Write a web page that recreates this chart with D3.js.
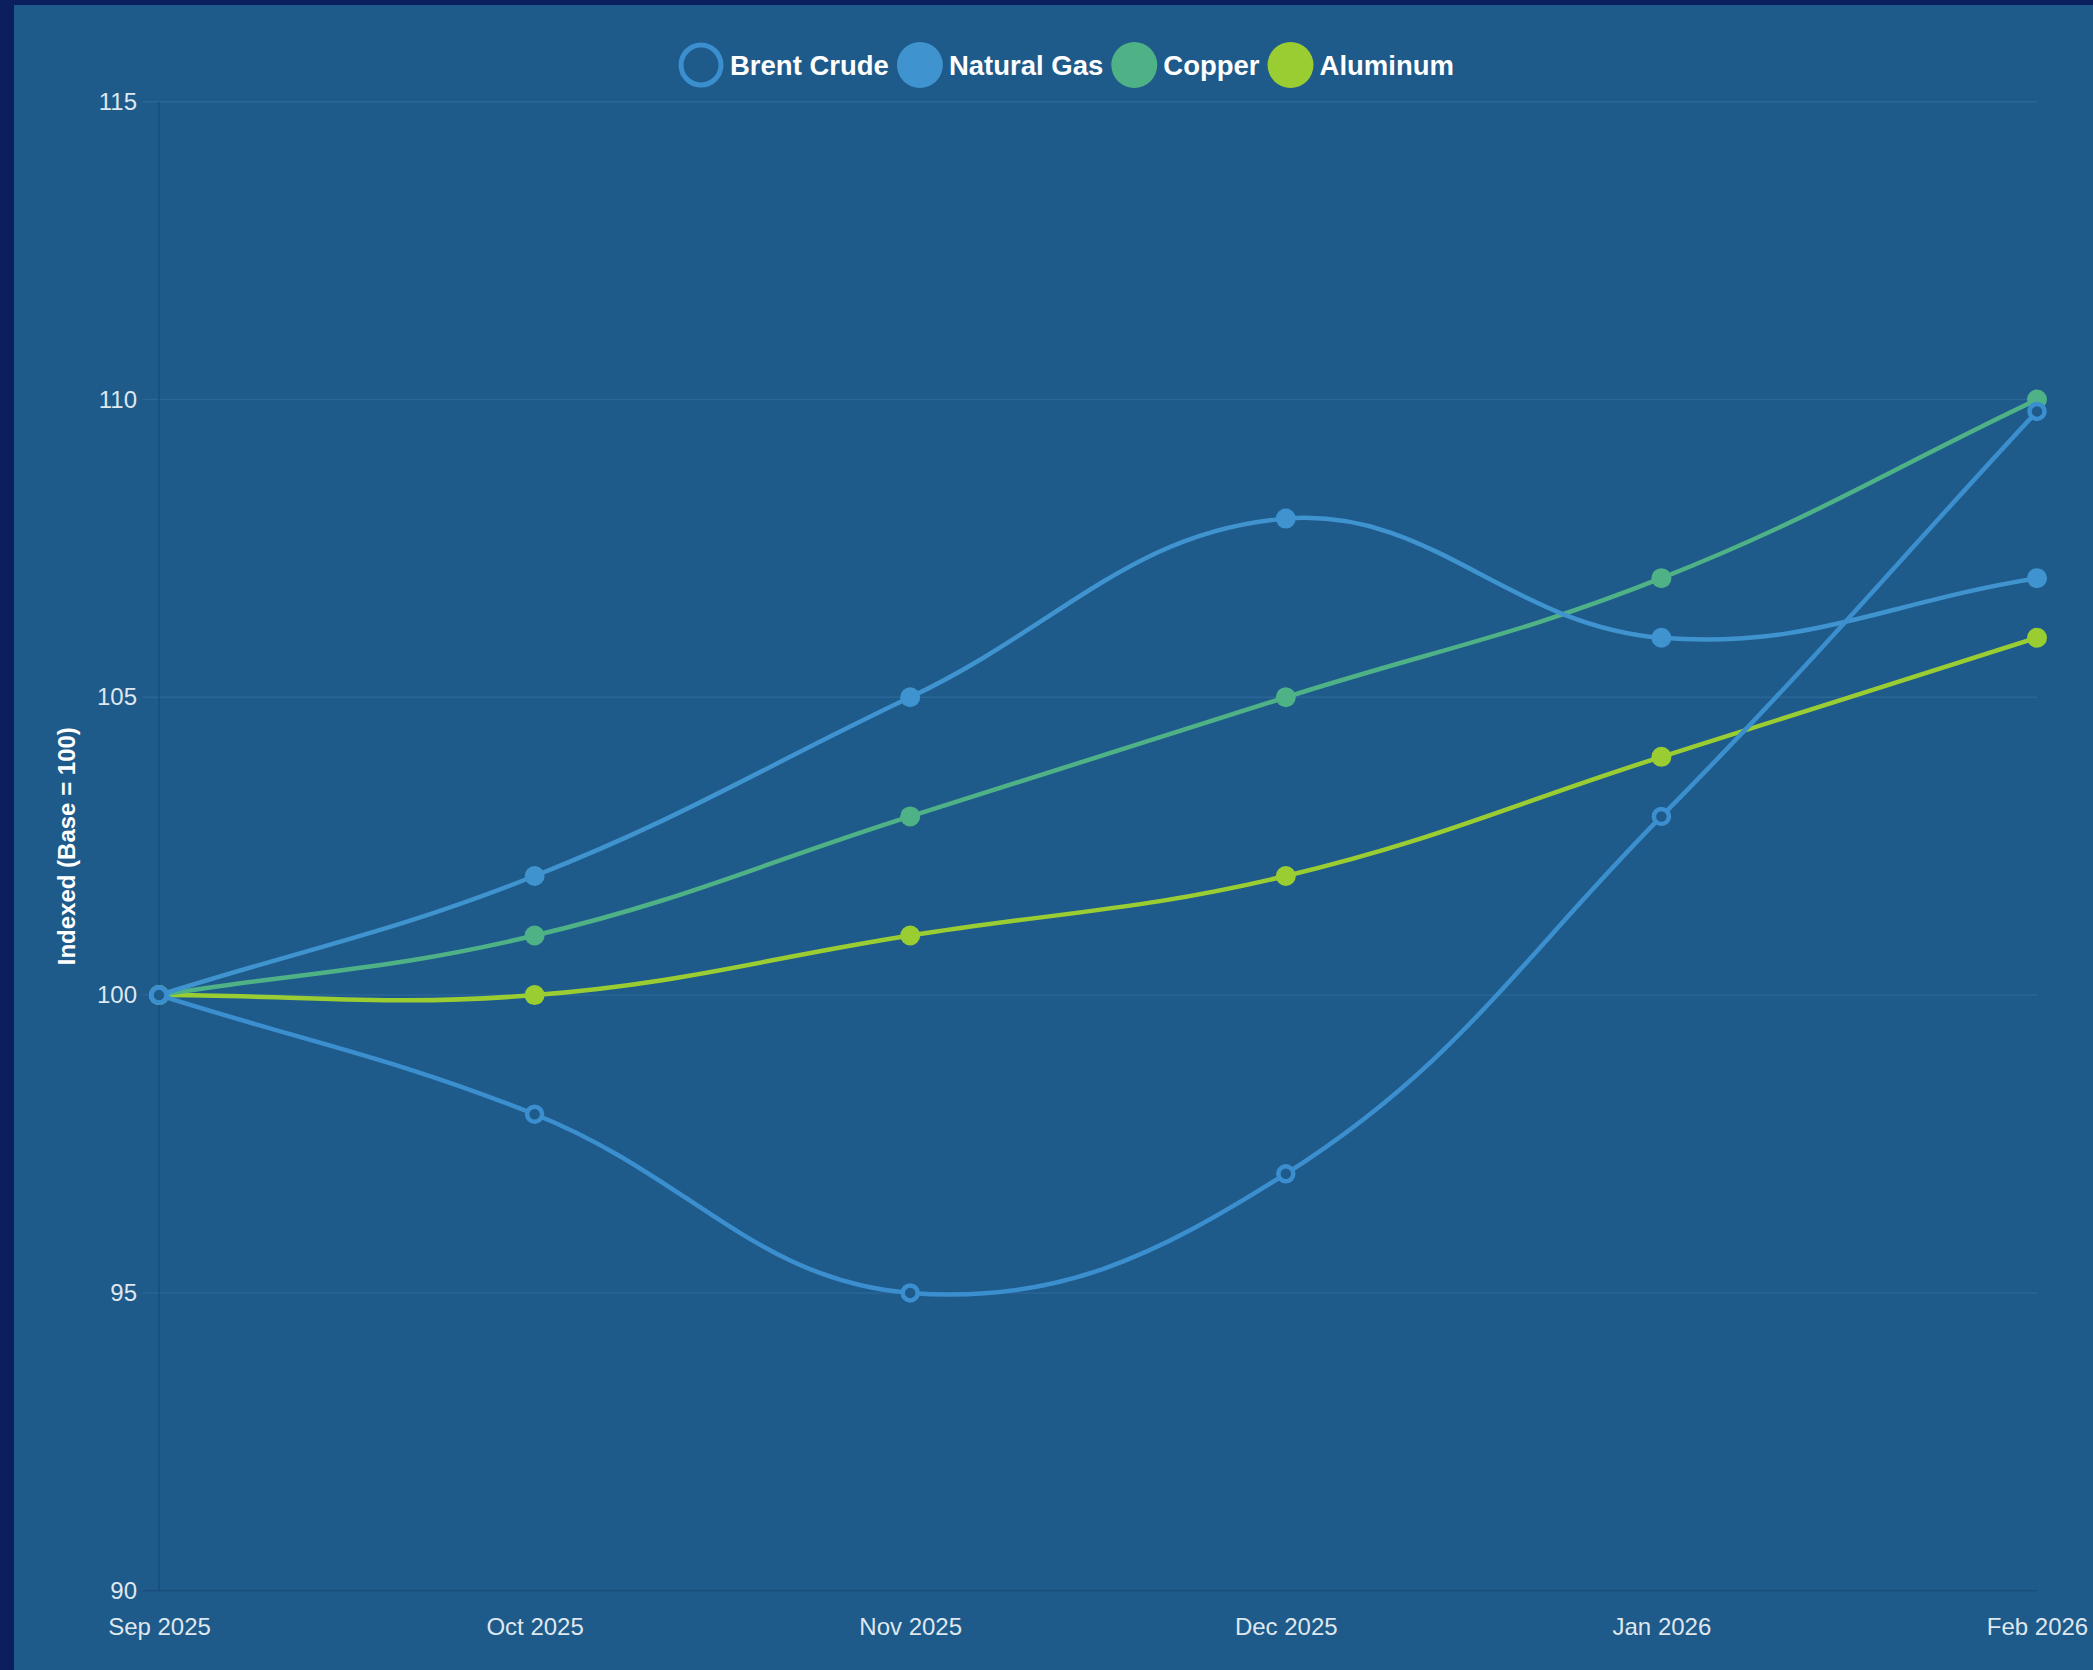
<!DOCTYPE html>
<html>
<head>
<meta charset="utf-8">
<script src="https://cdn.jsdelivr.net/npm/d3@7"></script>
<style>
  html, body { margin: 0; padding: 0; background: #0b1f5e; overflow: hidden; }
  svg { position: absolute; left: 14px; top: 5px; display: block; }
  text { font-family: "Liberation Sans", Arial, Helvetica, sans-serif; }
</style>
</head>
<body>
<svg id="chart"></svg>
<script>
const months = ["Sep 2025", "Oct 2025", "Nov 2025", "Dec 2025", "Jan 2026", "Feb 2026"];
const seriesNames = ["Brent Crude", "Natural Gas", "Copper", "Aluminum"];
const brentCrude = [100, 98, 95, 97, 103, 109.8];
const naturalGas = [100, 102, 105, 108, 106, 107];
const copper = [100, 101, 103, 105, 107, 110];
const aluminum = [100, 100, 101, 102, 104, 106];
const yTicks = [90, 95, 100, 105, 110, 115];
const yTitle = "Indexed (Base = 100)";

const colors = ["#3c8fcf", "#3f93cf", "#4fb286", "#9acd32"];
const hollow = [true, false, false, false];
const seriesValues = [brentCrude, naturalGas, copper, aluminum];

(function () {
const W = 2079, H = 1665, OX = 14, OY = 5;
const bg = "#1e5a8a";
const svg = d3.select("#chart").attr("width", W).attr("height", H);
svg.append("rect").attr("width", W).attr("height", H).attr("fill", bg);

const pL = 159 - OX, pR = 2037 - OX, pT = 101.7 - OY, pB = 1590.7 - OY;

const x = d3.scalePoint().domain(months).range([pL, pR]);
const y = d3.scaleLinear().domain([90, 115]).range([pB, pT]);

const g = svg.append("g");
g.selectAll("line.grid").data(yTicks).join("line")
  .attr("x1", pL - 16).attr("x2", pR)
  .attr("y1", d => y(d)).attr("y2", d => y(d))
  .attr("stroke", d => d === 90 ? "#1a4f7c" : "#2a6797").attr("stroke-width", 1.5);
g.append("line").attr("x1", pL).attr("x2", pL).attr("y1", pT).attr("y2", pB)
  .attr("stroke", "#1a4e7a").attr("stroke-width", 1.5);

const yAxis = d3.axisLeft(y).tickValues(yTicks).tickSize(0).tickPadding(22);
const ya = svg.append("g").attr("transform", `translate(${pL},0)`).call(yAxis);
ya.select(".domain").remove();
ya.selectAll("text").attr("fill", "#dfe7ef").attr("font-size", 24)
  .attr("font-family", "Liberation Sans, Arial, sans-serif");

const xAxis = d3.axisBottom(x).tickSize(0).tickPadding(0);
const xa = svg.append("g").attr("transform", `translate(0,${pB})`).call(xAxis);
xa.select(".domain").remove();
xa.selectAll("text").attr("fill", "#dfe7ef").attr("font-size", 24)
  .attr("font-family", "Liberation Sans, Arial, sans-serif")
  .attr("dy", null).attr("y", 1635 - 1590.7);

svg.append("text")
  .attr("transform", `translate(${67 - OX + 8},${(pT + pB) / 2}) rotate(-90)`)
  .attr("text-anchor", "middle").attr("fill", "#ffffff")
  .attr("font-size", 24).attr("font-weight", "bold").text(yTitle);

function splinePath(pts, t) {
  const cps = pts.map((p, i) => {
    const prev = pts[i - 1] || p, next = pts[i + 1] || p;
    const d01 = Math.hypot(p[0] - prev[0], p[1] - prev[1]);
    const d12 = Math.hypot(next[0] - p[0], next[1] - p[1]);
    let s01 = d01 / (d01 + d12), s12 = d12 / (d01 + d12);
    if (isNaN(s01)) s01 = 0; if (isNaN(s12)) s12 = 0;
    const fa = t * s01, fb = t * s12;
    const c1 = [p[0] - fa * (next[0] - prev[0]), p[1] - fa * (next[1] - prev[1])];
    const c2 = [p[0] + fb * (next[0] - prev[0]), p[1] + fb * (next[1] - prev[1])];
    const cap = c => [Math.max(pL, Math.min(pR, c[0])), Math.max(pT, Math.min(pB, c[1]))];
    return { prev: cap(c1), next: cap(c2) };
  });
  const path = d3.path();
  path.moveTo(pts[0][0], pts[0][1]);
  for (let i = 1; i < pts.length; i++) {
    path.bezierCurveTo(cps[i - 1].next[0], cps[i - 1].next[1], cps[i].prev[0], cps[i].prev[1], pts[i][0], pts[i][1]);
  }
  return path.toString();
}

for (let k = seriesValues.length - 1; k >= 0; k--) {
  const vals = seriesValues[k];
  const pts = vals.map((v, i) => [x(months[i]), y(v)]);
  const sg = svg.append("g");
  sg.append("path").attr("d", splinePath(pts, 0.4)).attr("fill", "none")
    .attr("stroke", colors[k]).attr("stroke-width", 4.5);
  sg.selectAll("circle").data(pts).join("circle")
    .attr("cx", d => d[0]).attr("cy", d => d[1])
    .attr("r", hollow[k] ? 7.5 : 10)
    .attr("fill", hollow[k] ? bg : colors[k])
    .attr("stroke", colors[k]).attr("stroke-width", hollow[k] ? 4.5 : 0);
}

const lg = svg.append("g");
const legendY = 65 - OY;
const items = seriesNames.map((n, k) => {
  const it = lg.append("g");
  it.append("circle").attr("r", hollow[k] ? 20 : 23)
    .attr("fill", hollow[k] ? "none" : colors[k])
    .attr("stroke", colors[k]).attr("stroke-width", hollow[k] ? 5 : 0);
  const tx = it.append("text").attr("x", 29).attr("y", 10).attr("fill", "#ffffff")
    .attr("font-size", 27.5).attr("font-weight", "bold").text(n);
  return { it, w: 29 + tx.node().getComputedTextLength() };
});
const gap = 8;
const total = d3.sum(items, d => d.w + 23) + gap * (items.length - 1);
let cx = 1066 - OX - total / 2;
items.forEach(d => {
  d.it.attr("transform", `translate(${cx + 23},${legendY})`);
  cx += d.w + 23 + gap;
});
})();
</script>
</body>
</html>
